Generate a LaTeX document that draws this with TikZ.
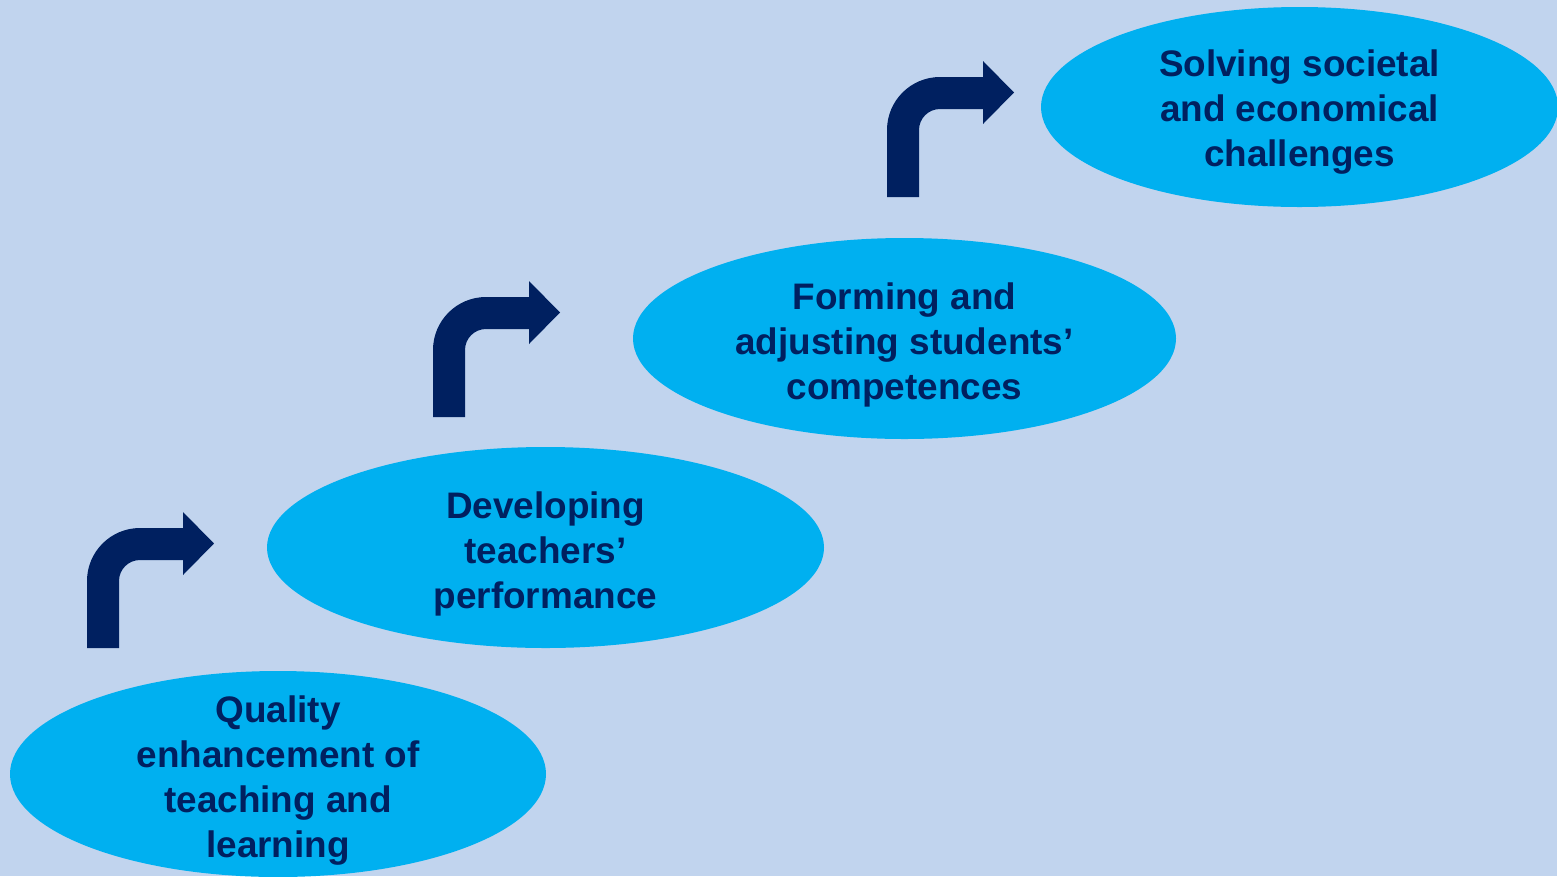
\documentclass[tikz,border=0pt]{standalone}
\usepackage{fontspec}
\setmainfont{Liberation Sans}
\usetikzlibrary{shapes.geometric}
\definecolor{bgblue}{HTML}{C1D4EE}
\definecolor{blobblue}{HTML}{00B0F0}
\definecolor{navy}{HTML}{002060}
\tikzset{
  blob/.style={ellipse, fill=blobblue, draw=none, inner sep=0pt},
  txt/.style={align=center, text=navy, font=\bfseries\fontsize{36.9}{45}\selectfont, inner sep=0pt},
  bendarrow/.pic={
    \fill[navy] (0,0) -- (0,-67) arc[start angle=180, end angle=270, radius=53]
      -- (96,-120) -- (96,-136) -- (127,-104.5) -- (96,-73) -- (96,-88) -- (53,-88)
      arc[start angle=270, end angle=180, radius=21] -- (32,0) -- cycle;
  }
}
\begin{document}
\begin{tikzpicture}[x=1pt,y=-1pt]
\useasboundingbox (0,0) rectangle (1557,876);
\fill[bgblue] (0,0) rectangle (1557,876);
% ellipses
\node[blob, minimum width=536, minimum height=206] (e1) at (278,774) {};
\node[blob, minimum width=557, minimum height=201] (e2) at (545.5,547.5) {};
\node[blob, minimum width=543, minimum height=201] (e3) at (904.5,338.5) {};
\node[blob, minimum width=517, minimum height=200] (e4) at (1299.5,107) {};
% texts
\node[txt] (t1) at ([yshift=-7]e1.center) {Quality\\enhancement of\\teaching and\\learning};
\node[txt] (t2) at ([yshift=-6.5]e2.center) {Developing\\teachers’\\performance};
\node[txt] (t3) at ([yshift=-6.5]e3.center) {Forming and\\adjusting students’\\competences};
\node[txt] (t4) at ([yshift=-5]e4.center) {Solving societal\\and economical\\challenges};
% arrows
\pic (a1) at (87,648) {bendarrow};
\pic (a2) at (433,417) {bendarrow};
\pic (a3) at (887,197) {bendarrow};
\end{tikzpicture}
\end{document}
